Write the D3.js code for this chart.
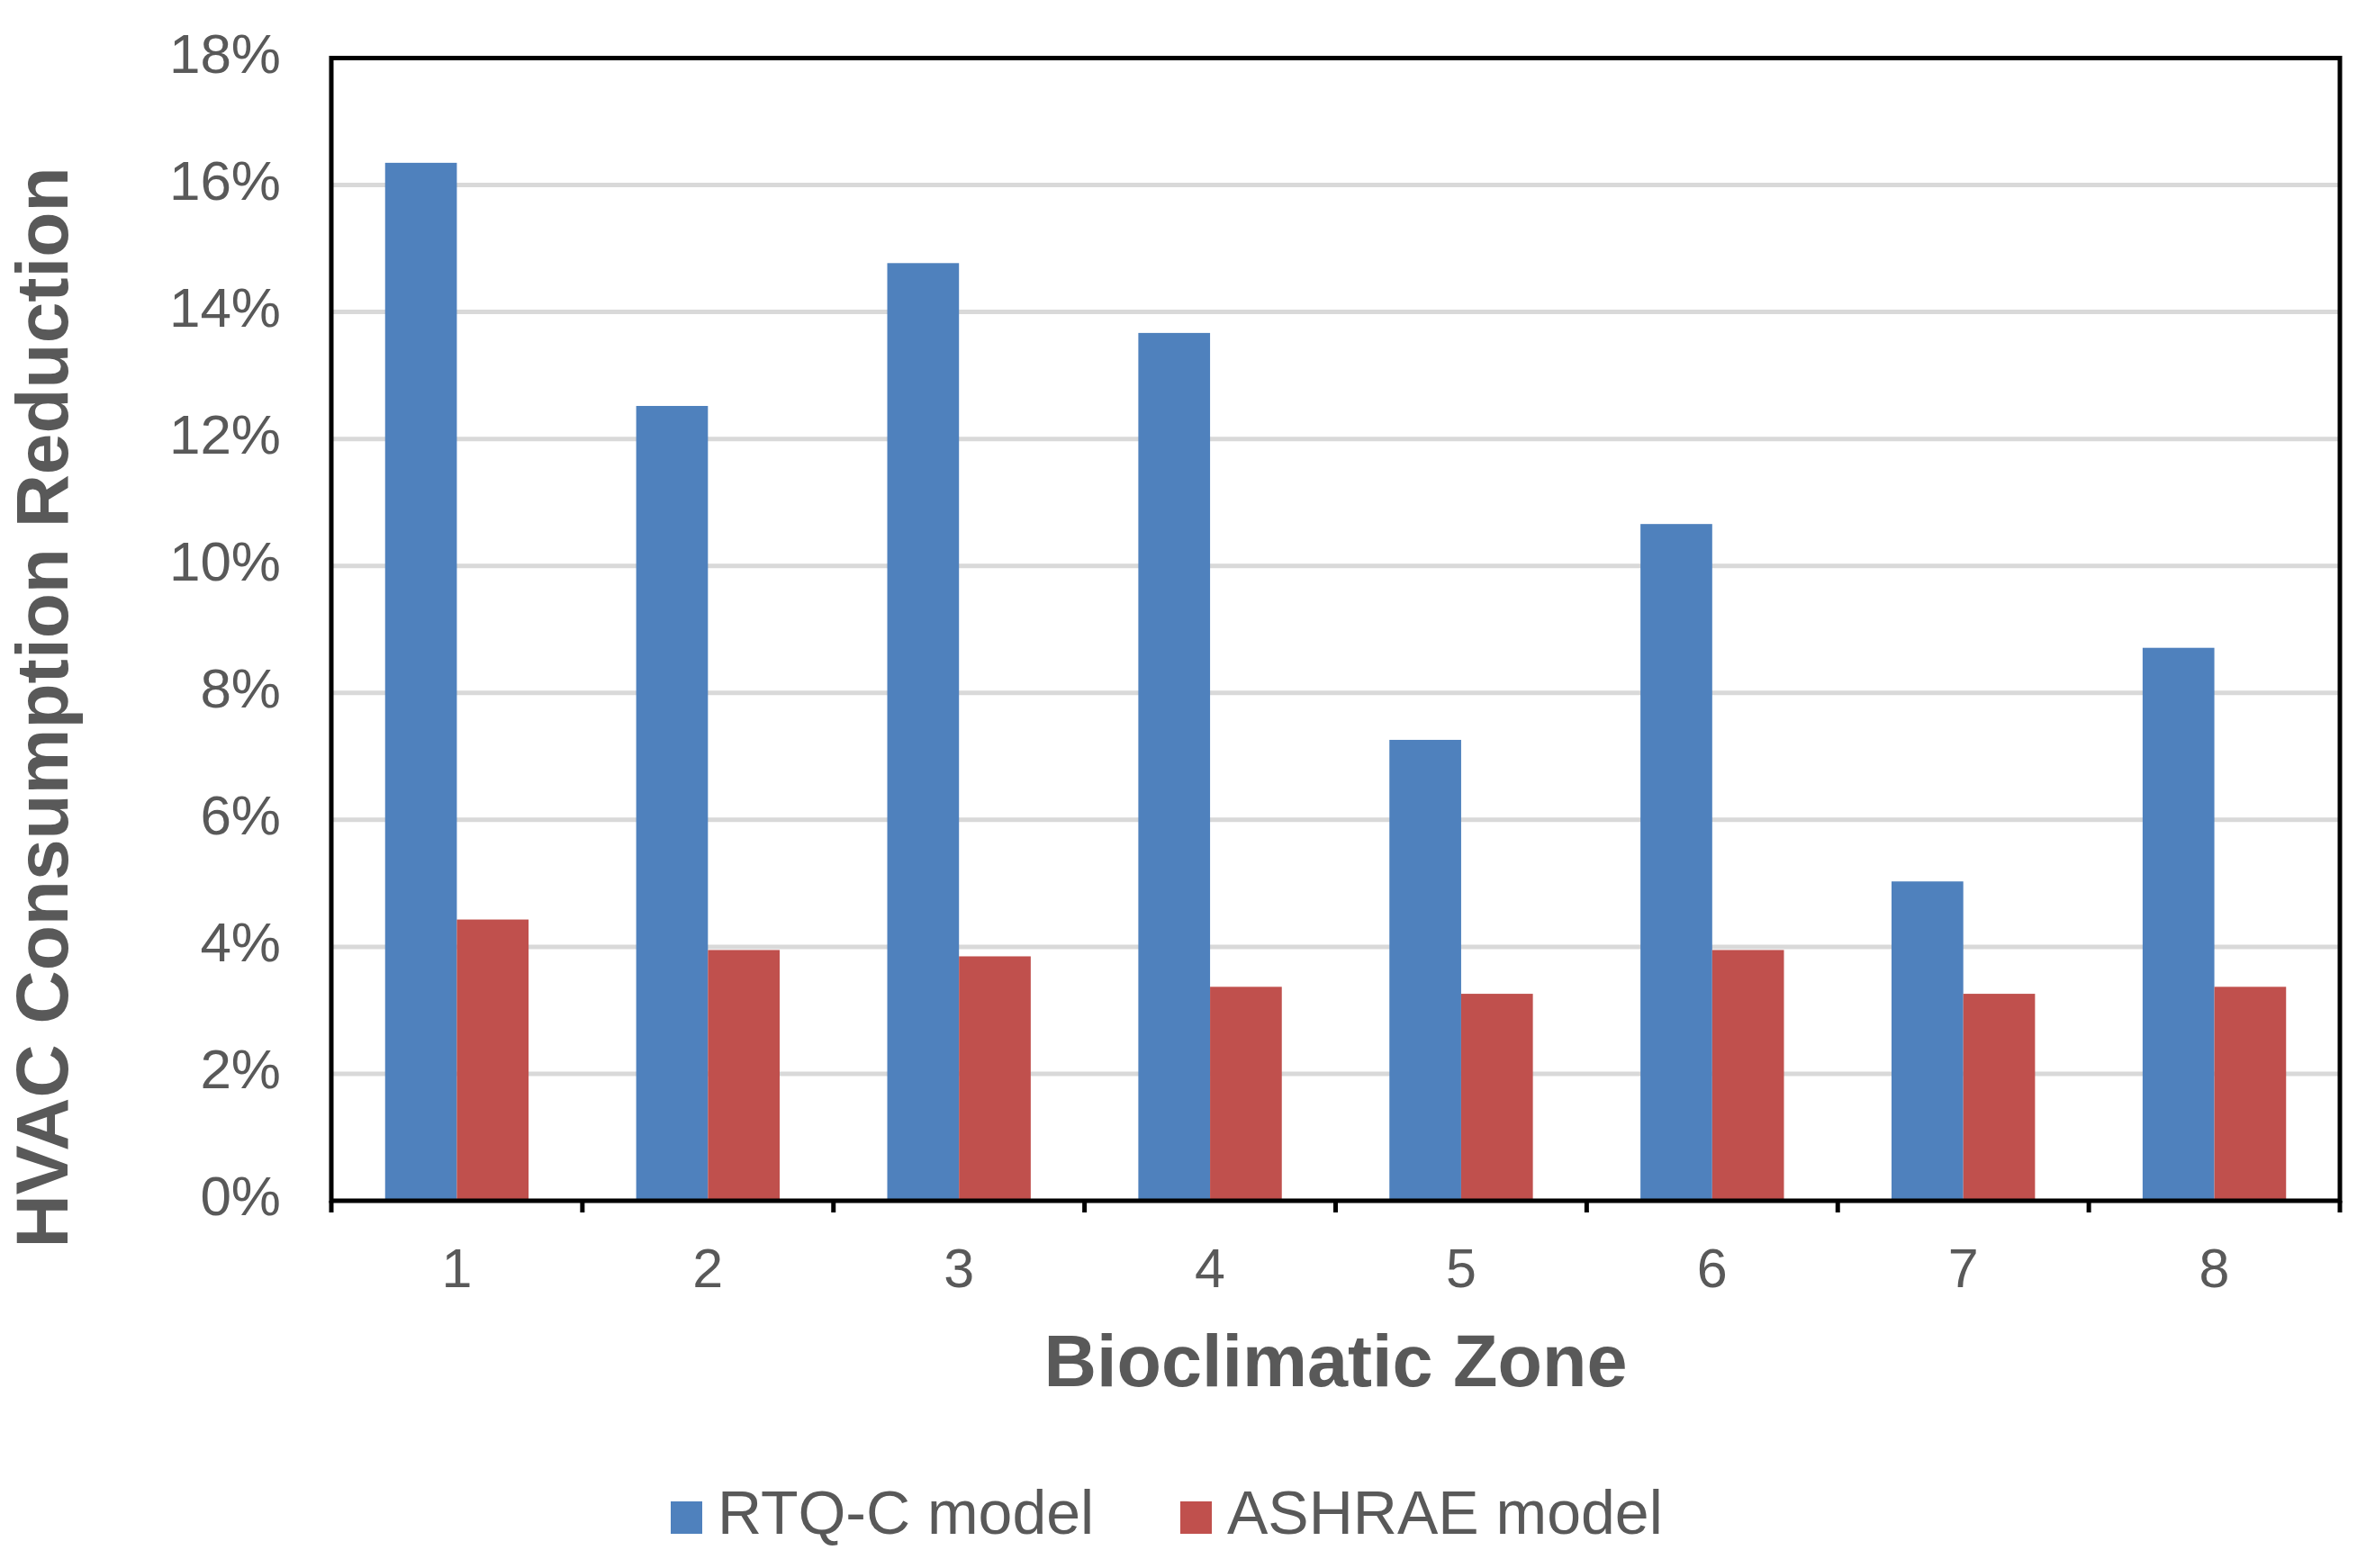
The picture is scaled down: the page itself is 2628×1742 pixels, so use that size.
<!DOCTYPE html>
<html>
<head>
<meta charset="utf-8">
<script src="https://cdn.jsdelivr.net/npm/d3@7"></script>
<style>
  html, body { margin: 0; padding: 0; background: #ffffff; }
  svg { display: block; }
</style>
</head>
<body>
<svg id="chart" width="2628" height="1742"></svg>
<script>
const zones = ["1", "2", "3", "4", "5", "6", "7", "8"];
const seriesNames = ["RTQ-C model", "ASHRAE model"];
const rtqcValues = [16.35, 12.52, 14.77, 13.67, 7.26, 10.66, 5.03, 8.71];
const ashraeValues = [4.43, 3.95, 3.85, 3.37, 3.26, 3.95, 3.26, 3.37];
const yTickValues = [0, 2, 4, 6, 8, 10, 12, 14, 16, 18];
const seriesColors = ["#4F81BD", "#C0504D"];

(function () {
const textColor = "#595959";
const font = "'Liberation Sans', Arial, sans-serif";

const svg = d3.select("#chart");
const pLeft = 368, pRight = 2599, pTop = 64.5, pBottom = 1334;

const x0 = d3.scaleBand().domain(zones).range([pLeft, pRight]).padding(0);
const x1 = d3.scaleBand().domain(seriesNames).range([0, x0.bandwidth()])
  .paddingInner(0).paddingOuter(0.75);
const y = d3.scaleLinear().domain([0, 18]).range([pBottom, pTop]);

const table = zones.map((z, i) => ({ zone: z, values: [rtqcValues[i], ashraeValues[i]] }));

// gridlines
svg.append("g").selectAll("line")
  .data(yTickValues.filter(d => d > 0 && d < 18))
  .join("line")
  .attr("x1", pLeft).attr("x2", pRight)
  .attr("y1", d => y(d)).attr("y2", d => y(d))
  .attr("stroke", "#d9d9d9").attr("stroke-width", 5);

// bars
const groups = svg.append("g").selectAll("g")
  .data(table).join("g")
  .attr("transform", d => `translate(${x0(d.zone)},0)`);
groups.selectAll("rect")
  .data(d => d.values.map((v, k) => ({ key: seriesNames[k], value: v, k })))
  .join("rect")
  .attr("x", d => x1(d.key))
  .attr("width", x1.bandwidth())
  .attr("y", d => y(d.value))
  .attr("height", d => y(0) - y(d.value))
  .attr("fill", d => seriesColors[d.k]);

// frame
svg.append("rect")
  .attr("x", pLeft).attr("y", pTop)
  .attr("width", pRight - pLeft).attr("height", pBottom - pTop)
  .attr("fill", "none").attr("stroke", "#000").attr("stroke-width", 5);

// x boundary ticks
const boundaries = zones.map(z => x0(z)).concat([pRight]);
svg.append("g").selectAll("line")
  .data(boundaries).join("line")
  .attr("x1", d => d).attr("x2", d => d)
  .attr("y1", pBottom).attr("y2", pBottom + 13)
  .attr("stroke", "#000").attr("stroke-width", 5);

// y axis labels
const yAxis = d3.axisLeft(y).tickValues(yTickValues).tickSize(0).tickPadding(0)
  .tickFormat(d => d + "%");
const yg = svg.append("g").attr("transform", `translate(${pLeft - 56},0)`).call(yAxis);
yg.select(".domain").remove();
yg.selectAll("text")
  .attr("font-family", font).attr("font-size", 62).attr("fill", textColor)
  .attr("dy", "0.3em").attr("y", -3);

// x axis labels
const xAxis = d3.axisBottom(x0).tickSize(0).tickPadding(0);
const xg = svg.append("g").attr("transform", `translate(0,${pBottom})`).call(xAxis);
xg.select(".domain").remove();
xg.selectAll("text")
  .attr("font-family", font).attr("font-size", 61).attr("fill", textColor)
  .attr("dy", null).attr("y", 96);

// axis titles
svg.append("text")
  .attr("x", (pLeft + pRight) / 2).attr("y", 1540)
  .attr("text-anchor", "middle")
  .attr("font-family", font).attr("font-weight", "bold").attr("font-size", 81)
  .attr("fill", textColor)
  .text("Bioclimatic Zone");

svg.append("text")
  .attr("transform", "translate(75,786) rotate(-90)")
  .attr("text-anchor", "middle")
  .attr("font-family", font).attr("font-weight", "bold").attr("font-size", 82)
  .attr("fill", textColor)
  .text("HVAC Consumption Reduction");

// legend
const legendX = [745, 1311];
const legend = svg.append("g").selectAll("g")
  .data(seriesNames).join("g")
  .attr("transform", (d, i) => `translate(${legendX[i]},1704)`);
legend.append("rect")
  .attr("x", 0).attr("y", -36).attr("width", 35).attr("height", 36)
  .attr("fill", (d, i) => seriesColors[i]);
legend.append("text")
  .attr("x", 52).attr("y", 0)
  .attr("font-family", font).attr("font-size", 68).attr("fill", textColor)
  .text(d => d);
})();
</script>
</body>
</html>
